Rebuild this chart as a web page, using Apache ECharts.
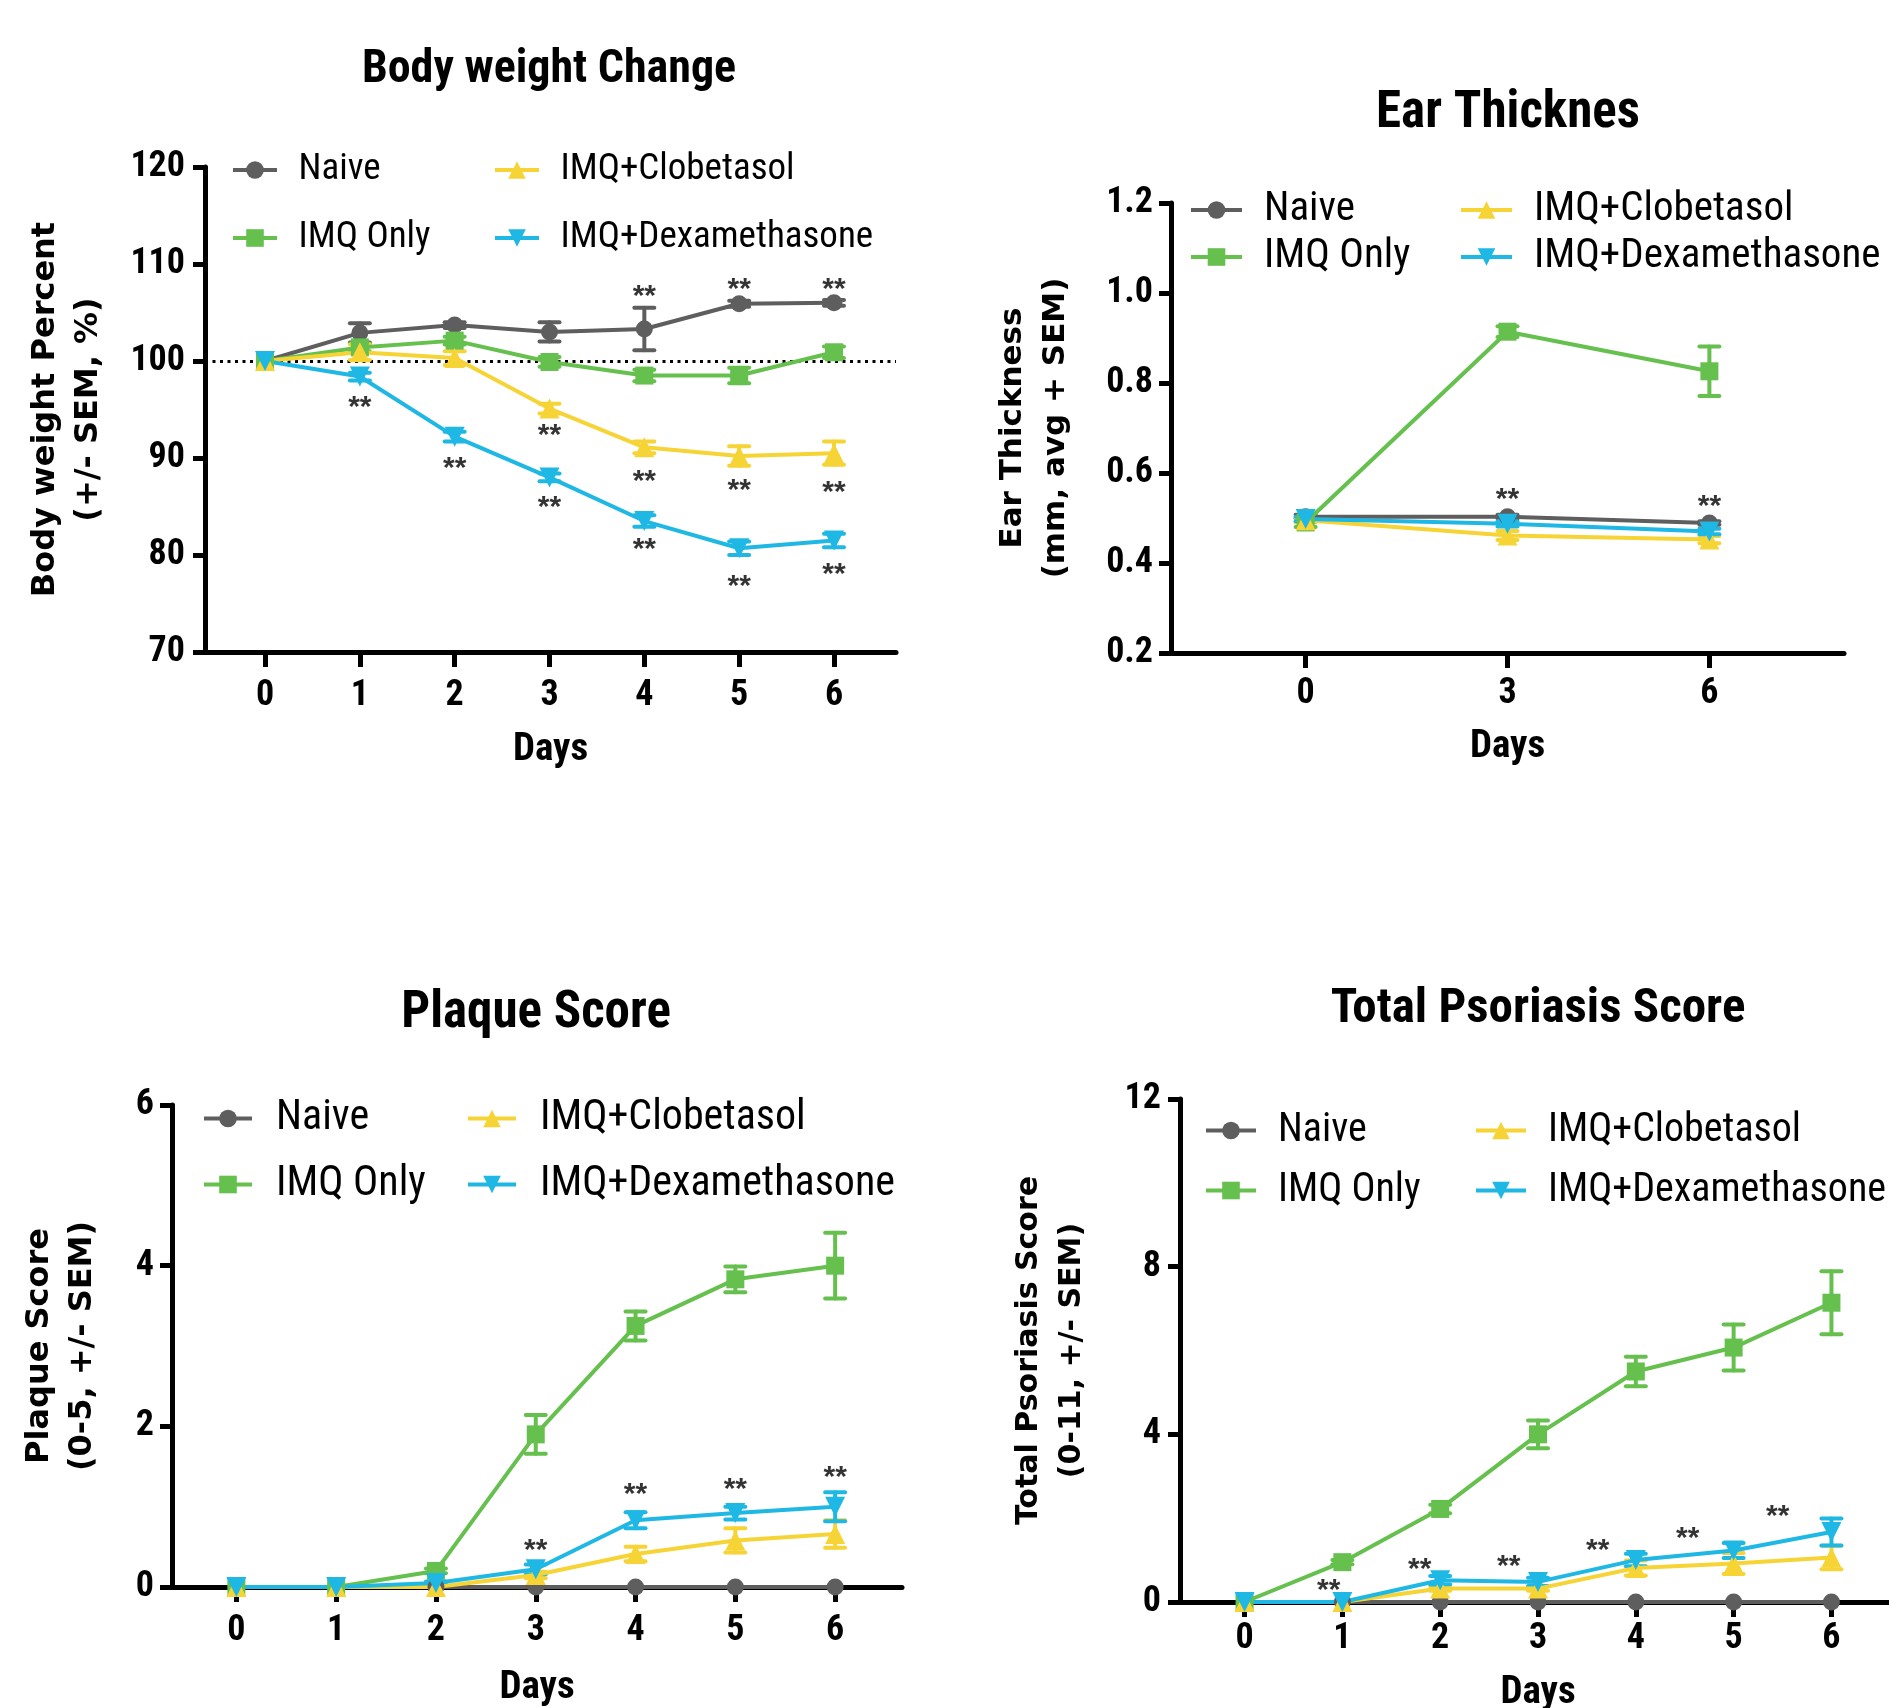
<!DOCTYPE html>
<html><head><meta charset="utf-8">
<script src="https://cdn.jsdelivr.net/npm/echarts@6/dist/echarts.min.js"></script>
<style>html,body{margin:0;padding:0;background:#fff}#c{width:1889px;height:1708px}</style>
</head><body><div id="c"></div>
<script>
// ---------- data ----------
const seriesNames = ['Naive', 'IMQ Only', 'IMQ+Clobetasol', 'IMQ+Dexamethasone'];
const days = [0, 1, 2, 3, 4, 5, 6];
const earDays = [0, 3, 6];
const xTicks7 = [0, 1, 2, 3, 4, 5, 6];
const xTicksEar = [0, 3, 6];

// Body weight change (%)
const bwNaive    = [100, 102.9, 103.7, 103.0, 103.3, 105.9, 106.0];
const bwNaiveSem = [0, 1.0, 0.3, 1.0, 2.2, 0.3, 0.3];
const bwImq      = [100, 101.4, 102.1, 99.9, 98.5, 98.5, 100.9];
const bwImqSem   = [0, 0.4, 0.4, 0.5, 0.6, 0.8, 0.6];
const bwClob     = [100, 100.9, 100.3, 95.1, 91.1, 90.2, 90.5];
const bwClobSem  = [0, 0.8, 0.7, 0.5, 0.6, 1.0, 1.2];
const bwDex      = [100, 98.4, 92.2, 88.0, 83.5, 80.7, 81.5];
const bwDexSem   = [0, 0.4, 0.5, 0.4, 0.6, 0.7, 0.7];
const bwStars = [[1, 95.9], [2, 89.6], [3, 93.0], [3, 85.6], [4, 107.3], [4, 88.3], [4, 81.3],
                 [5, 108.1], [5, 87.3], [5, 77.4], [6, 108.1], [6, 87.1], [6, 78.7]];

// Ear thickness (mm)
const earNaive    = [0.503, 0.503, 0.489];
const earNaiveSem = [0.004, 0.004, 0.004];
const earImq      = [0.490, 0.914, 0.826];
const earImqSem   = [0.010, 0.012, 0.055];
const earClob     = [0.495, 0.461, 0.452];
const earClobSem  = [0.005, 0.010, 0.008];
const earDex      = [0.498, 0.487, 0.470];
const earDexSem   = [0.005, 0.006, 0.006];
const earStars = [[3, 0.557], [6, 0.540]];

// Plaque score
const plNaive    = [0, 0, 0, 0, 0, 0, 0];
const plNaiveSem = [0, 0, 0, 0, 0, 0, 0];
const plImq      = [0, 0, 0.20, 1.90, 3.25, 3.83, 4.00];
const plImqSem   = [0, 0, 0.03, 0.24, 0.18, 0.16, 0.41];
const plClob     = [0, 0, 0, 0.15, 0.41, 0.58, 0.66];
const plClobSem  = [0, 0, 0, 0.04, 0.09, 0.15, 0.17];
const plDex      = [0, 0, 0.05, 0.22, 0.83, 0.92, 1.00];
const plDexSem   = [0, 0, 0.02, 0.06, 0.10, 0.08, 0.18];
const plStars = [[3, 0.54], [4, 1.23], [5, 1.30], [6, 1.45]];

// Total psoriasis score
const tpNaive    = [0, 0, 0, 0, 0, 0, 0];
const tpNaiveSem = [0, 0, 0, 0, 0, 0, 0];
const tpImq      = [0, 0.95, 2.22, 4.00, 5.50, 6.07, 7.14];
const tpImqSem   = [0, 0.05, 0.10, 0.33, 0.35, 0.55, 0.75];
const tpClob     = [0, 0, 0.32, 0.32, 0.81, 0.92, 1.06];
const tpClobSem  = [0, 0, 0.05, 0.05, 0.18, 0.25, 0.28];
const tpDex      = [0, 0, 0.52, 0.48, 1.00, 1.23, 1.67];
const tpDexSem   = [0, 0, 0.10, 0.10, 0.15, 0.18, 0.32];
const tpStars = [[0.86, 0.44], [1.79, 0.94], [2.70, 1.00], [3.61, 1.40], [4.53, 1.67], [5.45, 2.19]];

// ---------- styling ----------
const COLORS = ['#5e5e5e', '#65c04e', '#f6d435', '#1fb8e4'];
const NARROW = '"Roboto Condensed", "Open Sans Condensed", "DejaVu Sans Condensed", sans-serif';
const WIDE = '"DejaVu Sans", "Liberation Sans", sans-serif';

const panels = [
  { title: 'Body weight Change', tx: 549, ty: 70, tsize: 46,
    grid: {left: 205, top: 167, width: 691, height: 485}, xmin: -0.633, xmax: 6.654, xticks: xTicks7,
    ymin: 70, ymax: 120, yint: 10, ydec: 0,
    yname: 'Body weight Percent\n(+/- SEM, %)', ynameSize: 32, ynameGap: 95, xnameGap: 79, xLabMargin: 26, yLabMargin: 20,
    xs: days, means: [bwNaive, bwImq, bwClob, bwDex], sems: [bwNaiveSem, bwImqSem, bwClobSem, bwDexSem],
    stars: bwStars, refLine: 100,
    leg: {size: 37, lh: 40, gap: 28, top: 150, l1: 231, l2: 493, w: 44, tg: 21.5} },
  { title: 'Ear Thicknes', tx: 1508, ty: 114, tsize: 51,
    grid: {left: 1171, top: 203, width: 673, height: 450}, xmin: -2, xmax: 8, xticks: xTicksEar,
    ymin: 0.2, ymax: 1.2, yint: 0.2, ydec: 1,
    yname: 'Ear Thickness\n(mm, avg + SEM)', ynameSize: 31, ynameGap: 94, xnameGap: 75, xLabMargin: 23, yLabMargin: 18,
    xs: earDays, means: [earNaive, earImq, earClob, earDex], sems: [earNaiveSem, earImqSem, earClobSem, earDexSem],
    stars: earStars, refLine: null,
    leg: {size: 41, lh: 44, gap: 3, top: 188, l1: 1189, l2: 1459, w: 51, tg: 22} },
  { title: 'Plaque Score', tx: 536, ty: 1014, tsize: 51,
    grid: {left: 172, top: 1105, width: 730, height: 482}, xmin: -0.645, xmax: 6.67, xticks: xTicks7,
    ymin: 0, ymax: 6, yint: 2, ydec: 0,
    yname: 'Plaque Score\n(0-5, +/- SEM)', ynameSize: 32, ynameGap: 68, xnameGap: 82, xLabMargin: 26, yLabMargin: 18,
    xs: days, means: [plNaive, plImq, plClob, plDex], sems: [plNaiveSem, plImqSem, plClobSem, plDexSem],
    stars: plStars, refLine: null,
    leg: {size: 42, lh: 44, gap: 22, top: 1096.5, l1: 202, l2: 466, w: 48, tg: 24} },
  { title: 'Total Psoriasis Score', tx: 1538, ty: 1010, tsize: 49,
    grid: {left: 1180, top: 1099, width: 716, height: 503}, xmin: -0.66, xmax: 6.66, xticks: xTicks7,
    ymin: 0, ymax: 12, yint: 4, ydec: 0,
    yname: 'Total Psoriasis Score\n(0-11, +/- SEM)', ynameSize: 30, ynameGap: 86, xnameGap: 72, xLabMargin: 19, yLabMargin: 19,
    xs: days, means: [tpNaive, tpImq, tpClob, tpDex], sems: [tpNaiveSem, tpImqSem, tpClobSem, tpDexSem],
    stars: tpStars, refLine: null,
    leg: {size: 40, lh: 43, gap: 17, top: 1109, l1: 1204, l2: 1474, w: 50, tg: 22} }
];

const SYMBOLS = [
  {symbol: 'circle', size: 17, rotate: 0},
  {symbol: 'rect', size: 18, rotate: 0},
  {symbol: 'triangle', size: 20, rotate: 0},
  {symbol: 'triangle', size: 20, rotate: 180}
];

function errRender(params, api) {
  const x = api.value(0), lo = api.value(1), hi = api.value(2);
  if (!(hi - lo > 0)) return null;
  const p1 = api.coord([x, hi]), p2 = api.coord([x, lo]);
  const w = 10;
  const style = {stroke: api.visual('color'), lineWidth: 4, lineCap: 'round'};
  return {type: 'group', children: [
    {type: 'line', shape: {x1: p1[0], y1: p1[1], x2: p2[0], y2: p2[1]}, style: style},
    {type: 'line', shape: {x1: p1[0] - w, y1: p1[1], x2: p1[0] + w, y2: p1[1]}, style: style},
    {type: 'line', shape: {x1: p2[0] - w, y1: p2[1], x2: p2[0] + w, y2: p2[1]}, style: style}
  ]};
}

const option = {
  backgroundColor: '#ffffff',
  animation: false,
  title: [], grid: [], xAxis: [], yAxis: [], legend: [], series: []
};

panels.forEach(function (p, i) {
  option.title.push({
    text: p.title, left: p.tx, top: p.ty, textAlign: 'center', textVerticalAlign: 'middle', padding: 0,
    textStyle: {fontFamily: NARROW, fontWeight: 'bold', fontSize: p.tsize, color: '#000'}
  });
  option.grid.push(Object.assign({containLabel: false, outerBoundsMode: 'none'}, p.grid));
  option.xAxis.push({
    type: 'value', gridIndex: i, min: p.xmin, max: p.xmax,
    name: 'Days', nameLocation: 'middle', nameGap: p.xnameGap,
    nameTextStyle: {fontFamily: NARROW, fontWeight: 'bold', fontSize: 39, color: '#000'},
    axisLine: {show: true, onZero: false, lineStyle: {color: '#000', width: 5}},
    axisTick: {show: true, customValues: p.xticks, length: 15, lineStyle: {color: '#000', width: 5}},
    axisLabel: {show: true, customValues: p.xticks, margin: p.xLabMargin,
      fontFamily: NARROW, fontWeight: 'bold', fontSize: 36, color: '#000'},
    splitLine: {show: false}
  });
  option.yAxis.push({
    type: 'value', gridIndex: i, min: p.ymin, max: p.ymax, interval: p.yint,
    name: p.yname, nameLocation: 'middle', nameGap: p.ynameGap, nameRotate: 90,
    nameTextStyle: {fontFamily: WIDE, fontWeight: 'bold', fontSize: p.ynameSize, lineHeight: 43, color: '#000', align: 'center'},
    axisLine: {show: true, onZero: false, lineStyle: {color: '#000', width: 5}},
    axisTick: {show: true, length: 12, lineStyle: {color: '#000', width: 5}},
    axisLabel: {show: true, margin: p.yLabMargin, fontFamily: NARROW, fontWeight: 'bold', fontSize: 36, color: '#000',
      formatter: function (v) { return v.toFixed(p.ydec); }},
    splitLine: {show: false}
  });
  const lg = p.leg;
  [[seriesNames[0], seriesNames[1], lg.l1], [seriesNames[2], seriesNames[3], lg.l2]].forEach(function (col) {
    option.legend.push({
      data: [col[0], col[1]], orient: 'vertical', left: col[2], top: lg.top, padding: 0,
      itemGap: lg.gap, itemWidth: lg.w, itemHeight: 22, selectedMode: false,
      lineStyle: {width: 4},
      textStyle: {fontFamily: NARROW, fontSize: lg.size, lineHeight: lg.lh, color: '#000', padding: [0, 0, 0, lg.tg - 5]}
    });
  });

  // error bars
  p.means.forEach(function (m, k) {
    option.series.push({
      type: 'custom', name: 'err' + i + '_' + k, xAxisIndex: i, yAxisIndex: i,
      itemStyle: {color: COLORS[k]}, renderItem: errRender, z: 3, silent: true,
      encode: {x: 0, y: [1, 2]},
      data: p.xs.map(function (x, j) { return [x, m[j] - p.sems[k][j], m[j] + p.sems[k][j]]; })
    });
  });
  // lines + markers
  p.means.forEach(function (m, k) {
    const s = {
      type: 'line', name: seriesNames[k], xAxisIndex: i, yAxisIndex: i, z: 4,
      symbol: SYMBOLS[k].symbol, symbolSize: SYMBOLS[k].size, symbolRotate: SYMBOLS[k].rotate,
      showAllSymbol: true, clip: false,
      itemStyle: {color: COLORS[k]}, lineStyle: {color: COLORS[k], width: 4},
      data: p.xs.map(function (x, j) { return [x, m[j]]; })
    };
    if (k === 0 && p.refLine !== null) {
      s.markLine = {
        silent: true, symbol: ['none', 'none'], label: {show: false}, z: 2,
        lineStyle: {color: '#000', width: 3, type: [3, 4.5]},
        data: [{yAxis: p.refLine}]
      };
    }
    option.series.push(s);
  });
  // significance asterisks
  option.series.push({
    type: 'scatter', name: 'stars' + i, xAxisIndex: i, yAxisIndex: i, z: 5, silent: true,
    symbolSize: 1, itemStyle: {color: 'rgba(0,0,0,0)'},
    label: {show: true, position: 'inside', formatter: '**', offset: [0, 7],
      fontFamily: '"Liberation Sans", Arial, sans-serif', fontWeight: 'bold', fontSize: 30, color: '#000'},
    data: p.stars
  });
});

const chart = echarts.init(document.getElementById('c'), null, {renderer: 'canvas'});
chart.setOption(option);
</script>
</body></html>
